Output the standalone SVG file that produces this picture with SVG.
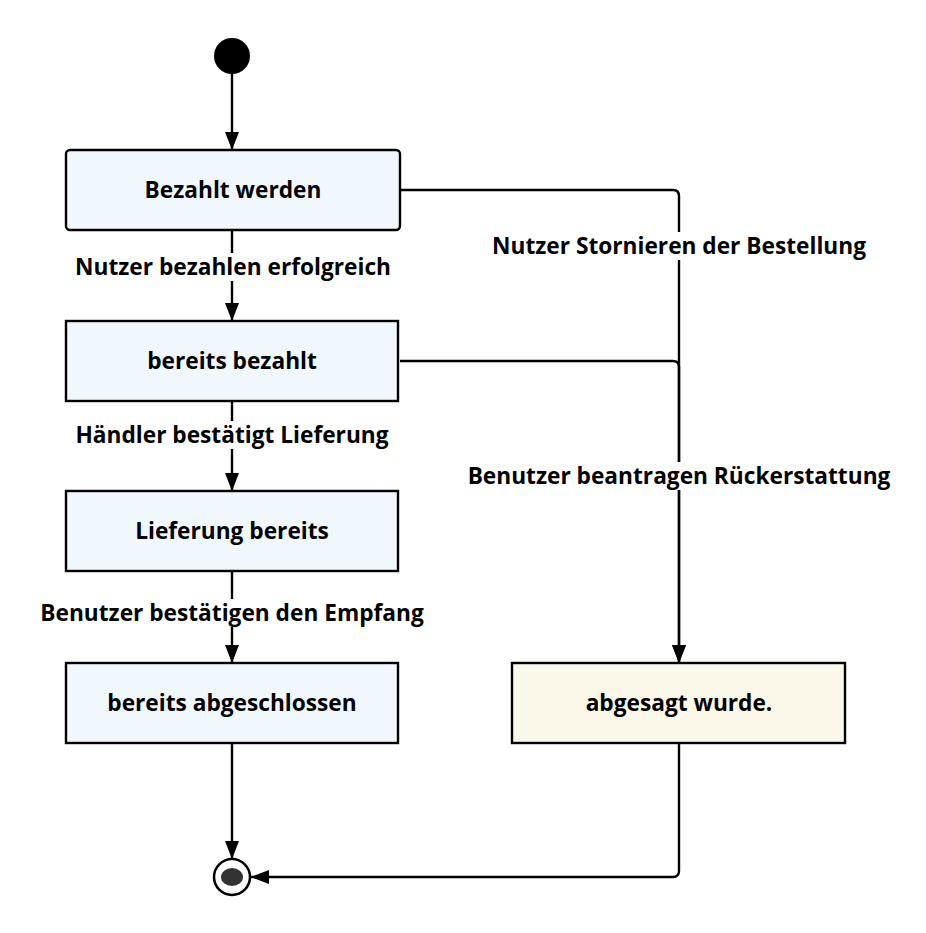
<svg xmlns="http://www.w3.org/2000/svg" width="926" height="933" viewBox="0 0 926 933">
<defs>
<marker id="arr" markerWidth="18" markerHeight="14" refX="18" refY="7" orient="auto" markerUnits="userSpaceOnUse" viewBox="0 0 18 14">
<path d="M0,0 L18,7 L0,14 Z" fill="#000"/>
</marker>
<style>
.box{fill:#f0f8fe;stroke:#000;stroke-width:2.4}
.box2{fill:#fbf8ea;stroke:#000;stroke-width:2.4}
.t{font-family:"Open Sans","Noto Sans","DejaVu Sans",sans-serif;font-weight:bold;font-size:22.7px;fill:#000;text-anchor:middle;dominant-baseline:central}
.ln{fill:none;stroke:#000;stroke-width:2.4}
.lbg{fill:#fff}
</style>
</defs>
<rect width="926" height="933" fill="#fff"/>
<g id="connectors">
<path class="ln" d="M232,74 V150" marker-end="url(#arr)"/>
<path class="ln" d="M232,230 V321" marker-end="url(#arr)"/>
<path class="ln" d="M232,401 V491" marker-end="url(#arr)"/>
<path class="ln" d="M232,571 V663" marker-end="url(#arr)"/>
<path class="ln" d="M232,743 V859" marker-end="url(#arr)"/>
<path class="ln" d="M400,190 H673 Q679,190 679,196 V663" marker-end="url(#arr)"/>
<path class="ln" d="M400,361 H673 Q679,361 679,367 V663" marker-end="url(#arr)"/>
<path class="ln" d="M679,743 V871 Q679,877 673,877 H251" marker-end="url(#arr)"/>
<rect class="lbg" x="74" y="253" width="320" height="28"/>
<text class="t" x="233" y="266">Nutzer bezahlen erfolgreich</text>
<rect class="lbg" x="74" y="421" width="318" height="28"/>
<text class="t" x="232" y="434">Händler bestätigt Lieferung</text>
<rect class="lbg" x="38" y="599" width="390" height="28"/>
<text class="t" x="232" y="612">Benutzer bestätigen den Empfang</text>
<rect class="lbg" x="491" y="232" width="376" height="28"/>
<text class="t" x="679" y="245">Nutzer Stornieren der Bestellung</text>
<rect class="lbg" x="468" y="462" width="422" height="28"/>
<text class="t" x="679" y="475">Benutzer beantragen Rückerstattung</text>
</g>
<g id="start"><circle cx="232" cy="56" r="18" fill="#000"/></g>
<g id="n1"><rect class="box" x="66" y="150" width="334" height="80" rx="4"/><text class="t" x="233" y="189">Bezahlt werden</text></g>
<g id="n2"><rect class="box" x="66" y="321" width="332" height="80"/><text class="t" x="232" y="360">bereits bezahlt</text></g>
<g id="n3"><rect class="box" x="66" y="491" width="332" height="80"/><text class="t" x="232" y="530">Lieferung bereits</text></g>
<g id="n4"><rect class="box" x="66" y="663" width="332" height="80"/><text class="t" x="232" y="702">bereits abgeschlossen</text></g>
<g id="n5"><rect class="box2" x="512" y="663" width="333" height="80"/><text class="t" x="679" y="702">abgesagt wurde.</text></g>
<g id="end"><circle cx="232" cy="877" r="18" fill="#fff" stroke="#000" stroke-width="2.5"/><ellipse cx="232" cy="877" rx="11" ry="9" fill="#333"/></g>
</svg>
